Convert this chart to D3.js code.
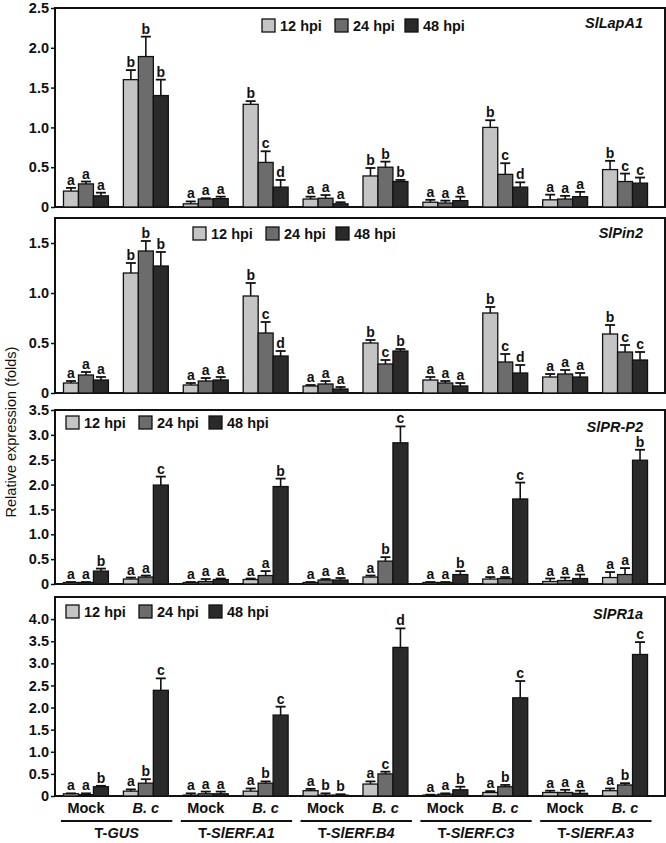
<!DOCTYPE html>
<html>
<head>
<meta charset="utf-8">
<script src="https://cdn.jsdelivr.net/npm/d3@7"></script>
<style>
  html, body { margin: 0; padding: 0; background: #fff; }
  svg { display: block; font-family: "Liberation Sans", Arial, sans-serif; }
</style>
</head>
<body>
<svg id="chart" width="666" height="843"></svg>
<script>
// ---------------- DATA ----------------
const lines = ["GUS", "SlERF.A1", "SlERF.B4", "SlERF.C3", "SlERF.A3"];
const conditions = ["Mock", "B. c"];
const groups = lines.flatMap(l => conditions.map(c => l + "|" + c));
const series = ["12 hpi", "24 hpi", "48 hpi"];
const seriesColors = ["#c4c4c4", "#6c6c6c", "#2a2a2a"];

// SlLapA1
const lapA1Mean = [[0.20,0.29,0.14],[1.60,1.89,1.40],[0.04,0.10,0.105],[1.29,0.56,0.25],[0.10,0.11,0.04],
                   [0.39,0.50,0.32],[0.06,0.05,0.08],[1.00,0.41,0.25],[0.09,0.10,0.13],[0.47,0.32,0.30]];
const lapA1Err  = [[0.04,0.03,0.04],[0.12,0.25,0.20],[0.03,0.01,0.025],[0.04,0.14,0.09],[0.03,0.04,0.02],
                   [0.10,0.07,0.02],[0.03,0.03,0.05],[0.09,0.14,0.06],[0.065,0.04,0.06],[0.11,0.10,0.07]];
const lapA1Letters = ["aaa","bbb","aaa","bcd","aaa","bbb","aaa","bcd","aaa","bcc"];

// SlPin2
const pin2Mean = [[0.10,0.18,0.13],[1.20,1.42,1.27],[0.08,0.12,0.13],[0.97,0.60,0.37],[0.07,0.09,0.04],
                  [0.50,0.29,0.42],[0.13,0.10,0.07],[0.80,0.31,0.20],[0.16,0.19,0.16],[0.59,0.41,0.33]];
const pin2Err  = [[0.02,0.03,0.03],[0.10,0.10,0.14],[0.02,0.03,0.03],[0.13,0.11,0.05],[0.01,0.03,0.02],
                  [0.03,0.04,0.02],[0.03,0.02,0.03],[0.06,0.08,0.08],[0.03,0.04,0.04],[0.09,0.07,0.08]];
const pin2Letters = ["aaa","bbb","aaa","bcd","aaa","bcb","aaa","bcd","aaa","bcc"];

// SlPR-P2
const prp2Mean = [[0.03,0.03,0.26],[0.10,0.14,1.99],[0.03,0.05,0.09],[0.09,0.17,1.96],[0.03,0.08,0.08],
                  [0.14,0.46,2.84],[0.03,0.03,0.19],[0.10,0.11,1.71],[0.05,0.07,0.11],[0.13,0.19,2.49]];
const prp2Err  = [[0.01,0.01,0.05],[0.03,0.03,0.17],[0.01,0.05,0.02],[0.02,0.09,0.16],[0.01,0.02,0.04],
                  [0.03,0.08,0.33],[0.01,0.01,0.07],[0.04,0.03,0.33],[0.06,0.06,0.08],[0.11,0.13,0.21]];
const prp2Letters = ["aab","aac","aaa","aab","aaa","abc","aab","aac","aaa","aab"];

// SlPR1a
const pr1aMean = [[0.05,0.03,0.21],[0.11,0.29,2.39],[0.02,0.05,0.05],[0.11,0.29,1.83],[0.12,0.02,0.02],
                  [0.27,0.50,3.36],[0.02,0.04,0.14],[0.08,0.21,2.22],[0.08,0.08,0.06],[0.12,0.25,3.20]];
const pr1aErr  = [[0.01,0.03,0.02],[0.04,0.09,0.27],[0.04,0.05,0.05],[0.06,0.04,0.19],[0.04,0.04,0.02],
                  [0.06,0.05,0.43],[0.01,0.02,0.07],[0.03,0.04,0.38],[0.04,0.06,0.06],[0.05,0.04,0.28]];
const pr1aLetters = ["aab","abc","aaa","abc","abb","acd","aab","abc","aaa","abc"];

const genes = ["SlLapA1", "SlPin2", "SlPR-P2", "SlPR1a"];
const yMax = [2.5, 1.75, 3.5, 4.5];
const yTicks = [[0,0.5,1,1.5,2,2.5],[0,0.5,1,1.5],[0,0.5,1,1.5,2,2.5,3,3.5],[0,0.5,1,1.5,2,2.5,3,3.5,4]];

// ---------------- LAYOUT ----------------
const panels = [
  { gene: genes[0], mean: lapA1Mean, err: lapA1Err, letters: lapA1Letters, max: yMax[0], ticks: yTicks[0],
    top: 8, bottom: 207, legX: 262, legY: 19, labelY: 28 },
  { gene: genes[1], mean: pin2Mean, err: pin2Err, letters: pin2Letters, max: yMax[1], ticks: yTicks[1],
    top: 218, bottom: 393, legX: 193, legY: 227, labelY: 238 },
  { gene: genes[2], mean: prp2Mean, err: prp2Err, letters: prp2Letters, max: yMax[2], ticks: yTicks[2],
    top: 410, bottom: 584, legX: 66, legY: 416, labelY: 432 },
  { gene: genes[3], mean: pr1aMean, err: pr1aErr, letters: pr1aLetters, max: yMax[3], ticks: yTicks[3],
    top: 597, bottom: 796, legX: 66, legY: 605, labelY: 619 }
];

const frameL = 55, frameR = 665;
const svg = d3.select("#chart");
const font = '"Liberation Sans", Arial, sans-serif';

const x = d3.scaleBand().domain(groups).range([56, 655]).paddingInner(0.25).paddingOuter(0.125);
const xs = d3.scaleBand().domain(series).range([0, x.bandwidth()]);

panels.forEach(p => {
  const y = d3.scaleLinear().domain([0, p.max]).range([p.bottom, p.top]);
  const g = svg.append("g");

  // frame
  g.append("rect").attr("x", frameL).attr("y", p.top)
    .attr("width", frameR - frameL).attr("height", p.bottom - p.top)
    .attr("fill", "none").attr("stroke", "#111").attr("stroke-width", 2);

  // axis
  const ax = g.append("g").attr("transform", `translate(${frameL},0)`)
    .call(d3.axisLeft(y).tickValues(p.ticks).tickSize(4).tickPadding(2)
      .tickFormat(d => d === 0 ? "0" : d3.format(".1f")(d)));
  ax.select(".domain").remove();
  ax.selectAll(".tick line").attr("stroke", "#111").attr("stroke-width", 1.5);
  ax.selectAll(".tick text").attr("font-family", font).attr("font-size", 14.5)
    .attr("font-weight", "bold").attr("fill", "#111");

  // bars
  groups.forEach((grp, gi) => {
    series.forEach((s, si) => {
      const v = p.mean[gi][si], e = p.err[gi][si];
      const bx = x(grp) + xs(s);
      const bw = xs.bandwidth();
      const cx = bx + bw / 2;
      g.append("rect").attr("x", bx).attr("y", y(v))
        .attr("width", bw).attr("height", y(0) - y(v))
        .attr("fill", seriesColors[si]).attr("stroke", "#111").attr("stroke-width", 1.3);
      // error bar
      g.append("line").attr("x1", cx).attr("x2", cx).attr("y1", y(v)).attr("y2", y(v + e))
        .attr("stroke", "#111").attr("stroke-width", 1.6);
      g.append("line").attr("x1", cx - 5).attr("x2", cx + 5).attr("y1", y(v + e)).attr("y2", y(v + e))
        .attr("stroke", "#111").attr("stroke-width", 1.8);
      // letter
      g.append("text").attr("x", cx).attr("y", y(v + e) - 3)
        .attr("text-anchor", "middle").attr("font-family", font)
        .attr("font-size", 14).attr("font-weight", "bold").attr("fill", "#111")
        .text(p.letters[gi][si]);
    });
  });

  // legend
  const legOffsets = [0, 73, 143];
  series.forEach((s, si) => {
    const lx = p.legX + legOffsets[si];
    g.append("rect").attr("x", lx).attr("y", p.legY).attr("width", 13).attr("height", 13)
      .attr("fill", seriesColors[si]).attr("stroke", "#111").attr("stroke-width", 1.3);
    g.append("text").attr("x", lx + 18).attr("y", p.legY + 12)
      .attr("font-family", font).attr("font-size", 14.5).attr("font-weight", "bold")
      .attr("fill", "#111").text(s);
  });

  // gene label
  g.append("text").attr("x", 643).attr("y", p.labelY).attr("text-anchor", "end")
    .attr("font-family", font).attr("font-size", 14.5).attr("font-weight", "bold")
    .attr("font-style", "italic").attr("fill", "#111").text(p.gene);
});

// y-axis title
svg.append("text").attr("transform", "translate(16,432) rotate(-90)")
  .attr("text-anchor", "middle").attr("font-family", font).attr("font-size", 14.5)
  .attr("fill", "#111").text("Relative expression (folds)");

// bottom condition labels
groups.forEach((grp, gi) => {
  const cond = conditions[gi % 2];
  svg.append("text").attr("x", x(grp) + x.bandwidth() / 2).attr("y", 813)
    .attr("text-anchor", "middle").attr("font-family", font).attr("font-size", 14.5)
    .attr("font-weight", "bold").attr("font-style", cond === "Mock" ? "normal" : "italic")
    .attr("fill", "#111").text(cond);
});

// line underlines and line labels
lines.forEach((ln, li) => {
  const x0 = x(ln + "|Mock") - 2.5;
  const x1 = x(ln + "|B. c") + x.bandwidth() + 4;
  svg.append("line").attr("x1", x0).attr("x2", x1).attr("y1", 821).attr("y2", 821)
    .attr("stroke", "#111").attr("stroke-width", 2.2);
  const t = svg.append("text").attr("x", (x0 + x1) / 2).attr("y", 838)
    .attr("text-anchor", "middle").attr("font-family", font).attr("font-size", 14.5)
    .attr("font-weight", "bold").attr("fill", "#111");
  t.append("tspan").text("T-");
  t.append("tspan").attr("font-style", "italic").text(ln);
});
</script>
</body>
</html>
